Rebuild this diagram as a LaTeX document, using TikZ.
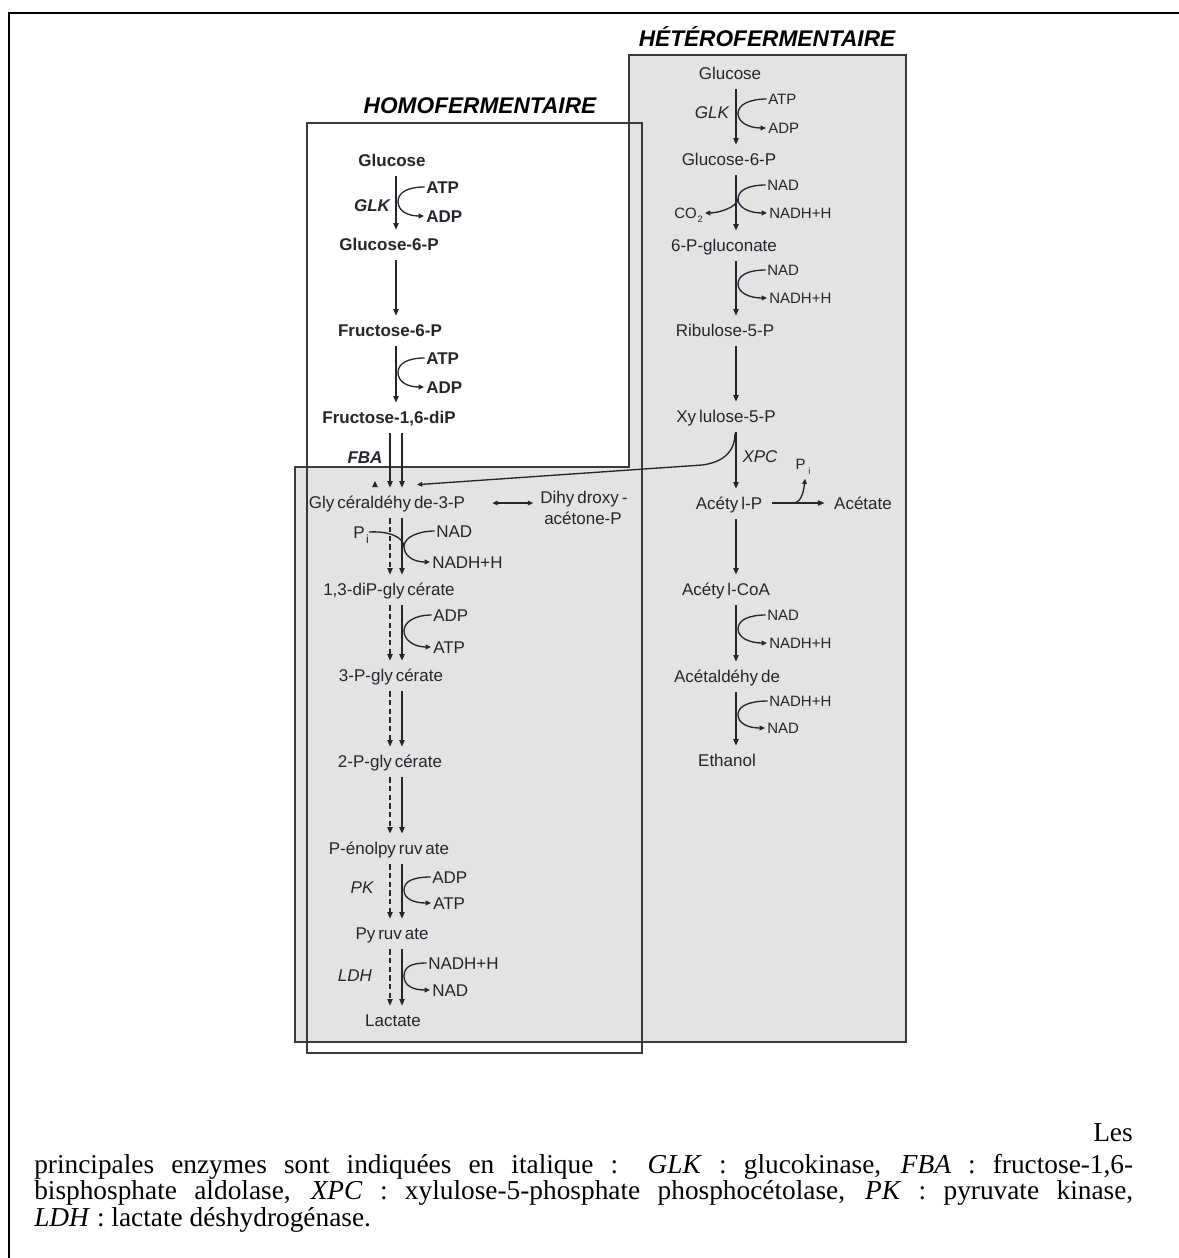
\documentclass[tikz,border=0pt]{standalone}
\usepackage{fontspec}
\setmainfont{Liberation Serif}
\newfontfamily\sansfam{Liberation Sans}
\usetikzlibrary{arrows.meta,calc}

\definecolor{ink}{HTML}{25252D}
\definecolor{panel}{HTML}{E3E3E3}
\definecolor{frameline}{HTML}{3A3A3A}

% small gap that the labels show after some letters
\newcommand\yk{\kern2.2pt}
\newcommand\labfont{\sansfam\fontsize{12.75}{14}\selectfont}
\newcommand\smallfont{\sansfam\fontsize{11.25}{13}\selectfont}
\newcommand\titlefont{\sansfam\bfseries\itshape\fontsize{17}{19}\selectfont}
\newcommand\capfont{\fontsize{20.5}{24}\selectfont}

\tikzset{
  lab/.style={inner sep=0pt, text height=9.1pt, text depth=0pt, text=ink, font=\labfont},
  labb/.style={lab, font=\labfont\bfseries},
  enz/.style={lab, font=\labfont\itshape},
  enzb/.style={lab, font=\labfont\bfseries\itshape},
  sml/.style={inner sep=0pt, text height=8pt, text depth=0pt, text=ink, font=\smallfont},
  ttl/.style={inner sep=0pt, text height=12.2pt, text depth=0pt, text=black, font=\titlefont},
  flux/.style={draw=ink, line width=1pt, -{Triangle[length=5pt,width=4pt]}, shorten <=7.5pt, shorten >=6pt},
  fluxd/.style={flux, dash pattern=on 4pt off 2.5pt},
  cofline/.style={draw=ink, line width=1pt},
  cofarr/.style={cofline, -{Triangle[length=4pt,width=3.5pt]}},
  captxt/.style={inner sep=0pt, font=\capfont, text=black},
}

% cofactor pair: curve from the upper label to the main arrow and out to the lower label
\newcommand\cofcurve[3]{%
  \coordinate (cm) at ($(#1.west)!0.5!(#2.west)$);
  \draw[cofarr] ([xshift=-1pt]#1.west) .. controls +(-17,0) and +(0,-9) .. (cm -| #3)
     .. controls +(0,9) and +(-17,0) .. ([xshift=-1.5pt]#2.west);}

\begin{document}
\begin{tikzpicture}[x=0.75pt,y=-0.75pt]
\useasboundingbox (0,0) rectangle (1179,1258);

% page frame
\draw[black, line width=1.8pt] (9,1258) -- (9,13) -- (1179,13);

% shaded panel and homofermentative frame
\fill[panel] (295,467) -- (629,467) -- (629,55) -- (906,55) -- (906,1042) -- (295,1042) -- cycle;
\draw[frameline, line width=1.2pt] (295,467) -- (629,467) -- (629,55) -- (906,55) -- (906,1042) -- (295,1042) -- cycle;
\draw[frameline, line width=1.2pt] (307,123) rectangle (642,1053);

% titles
\node[ttl] (homo) at (480,105) {HOMOFERMENTAIRE};
\node[ttl] (hetero) at (767,38) {HÉTÉROFERMENTAIRE};

% x positions of the pathway arrows
\coordinate (hx) at (396,0);
\coordinate (hd) at (390,0);
\coordinate (hs) at (402,0);
\coordinate (ex) at (736,0);
\coordinate (hm) at (398,0);
\coordinate (lm) at (404,0);
\coordinate (em) at (738,0);

% ---- homofermentative pathway ----
\node[labb] (hglc) at (392,160) {Glucose};
\node[labb] (hg6p) at (389,244) {Glucose-6-P};
\node[labb] (hf6p) at (390,330) {Fructose-6-P};
\node[labb] (hfdp) at (389,417) {Fructose-1,6-diP};
\node[lab] (gap) at (387,502) {Gly\yk céraldéhy\yk de-3-P};
\node[lab] (dhap) at (584,497) {Dihy\yk droxy\yk -};
\node[lab] (dhapb) at (583,518) {acétone-P};
\node[lab] (bpg) at (389,589) {1,3-diP-gly\yk cérate};
\node[lab] (pgc) at (391,675) {3-P-gly\yk cérate};
\node[lab] (pgb) at (390,761) {2-P-gly\yk cérate};
\node[lab] (pep) at (389,848) {P-énolpy\yk ruv\yk ate};
\node[lab] (pyr) at (392,933) {Py\yk ruv\yk ate};
\node[lab] (lac) at (393,1020) {Lactate};

\node[enzb] (hglk) at (372,205) {GLK};
\node[enzb] (fba) at (365,457) {FBA};
\node[enz] (pk) at (362,887) {PK};
\node[enz] (ldh) at (355,975) {LDH};

\node[labb, anchor=west] (atpa) at (426,187) {ATP};
\node[labb, anchor=west] (adpa) at (426,216) {ADP};
\node[labb, anchor=west] (atpb) at (426,358) {ATP};
\node[labb, anchor=west] (adpb) at (426,387) {ADP};
\node[lab, anchor=west] (nada) at (436,531) {NAD};
\node[lab, anchor=west] (nadha) at (432,562) {NADH+H};
\node[lab] (pi) at (361,532) {P\kern1pt\raisebox{-4pt}{\fontsize{9}{9}\selectfont i}};
\node[lab, anchor=west] (adpc) at (433,615) {ADP};
\node[lab, anchor=west] (atpc) at (433,647) {ATP};
\node[lab, anchor=west] (adpd) at (432,877) {ADP};
\node[lab, anchor=west] (atpd) at (433,903) {ATP};
\node[lab, anchor=west] (nadhb) at (428,963) {NADH+H};
\node[lab, anchor=west] (nadb) at (432,990) {NAD};

\draw[flux] (hglc.south -| hx) -- (hg6p.north -| hx);
\draw[flux] (hg6p.south -| hx) -- (hf6p.north -| hx);
\draw[flux] (hf6p.south -| hx) -- (hfdp.north -| hx);
\draw[flux] (hfdp.south -| hd) -- (gap.north -| hd);
\draw[flux] (hfdp.south -| hs) -- (gap.north -| hs);
\foreach \a/\b in {gap/bpg, bpg/pgc, pgc/pgb, pgb/pep, pep/pyr, pyr/lac} {
  \draw[fluxd] (\a.south -| hd) -- (\b.north -| hd);
  \draw[flux] (\a.south -| hs) -- (\b.north -| hs);
}
\fill[ink] (372,487) -- (378,487) -- (375,481) -- cycle;

\cofcurve{atpa}{adpa}{hm}
\cofcurve{atpb}{adpb}{hm}
\cofcurve{nada}{nadha}{lm}
\coordinate (nadj) at (cm -| lm);
\draw[cofline] (pi.east) .. controls +(17,-1) and +(-1,-11) .. (nadj);
\cofcurve{adpc}{atpc}{lm}
\cofcurve{adpd}{atpd}{lm}
\cofcurve{nadhb}{nadb}{lm}

\draw[cofline, {Triangle[length=4pt,width=3.5pt]}-{Triangle[length=4pt,width=3.5pt]}]
  ($(gap.east)+(27,1)$) -- ($(dhap.west |- gap.east)+(-7,1)$);

% ---- heterofermentative pathway ----
\node[lab] (glc) at (730,73) {Glucose};
\node[lab] (g6p) at (729,159) {Glucose-6-P};
\node[lab] (pgl) at (724,245) {6-P-gluconate};
\node[lab] (ru5p) at (725,330) {Ribulose-5-P};
\node[lab] (xu5p) at (726,416) {Xy\yk lulose-5-P};
\node[lab] (acp) at (729,503) {Acéty\yk l-P};
\node[lab] (ace) at (863,503) {Acétate};
\node[lab] (acoa) at (726,589) {Acéty\yk l-CoA};
\node[lab] (acald) at (727,676) {Acétaldéhy\yk de};
\node[lab] (etoh) at (727,760) {Ethanol};

\node[enz] (glk) at (712,112) {GLK};
\node[enz] (xpc) at (760,456) {XPC};

\node[sml, anchor=west] (atpe) at (768,99) {ATP};
\node[sml, anchor=west] (adpe) at (768,128) {ADP};
\node[sml, anchor=west] (nadc) at (767,185) {NAD};
\node[sml, anchor=west] (nadhc) at (769,213) {NADH+H};
\node[sml, anchor=east] (co2) at (703,213) {CO\kern0.5pt\raisebox{-3pt}{\fontsize{7}{7}\selectfont 2}};
\node[sml, anchor=west] (nadd) at (767,270) {NAD};
\node[sml, anchor=west] (nadhd) at (769,298) {NADH+H};
\node[sml, anchor=west] (nade) at (767,615) {NAD};
\node[sml, anchor=west] (nadhe) at (769,643) {NADH+H};
\node[sml, anchor=west] (nadhf) at (769,701) {NADH+H};
\node[sml, anchor=west] (nadf) at (767,728) {NAD};
\node[sml] (pia) at (803,464) {P\kern2pt\raisebox{-4pt}{\fontsize{7}{7}\selectfont i}};

\foreach \a/\b in {glc/g6p, g6p/pgl, pgl/ru5p, ru5p/xu5p, xu5p/acp, acp/acoa, acoa/acald, acald/etoh}
  \draw[flux] (\a.south -| ex) -- (\b.north -| ex);

\cofcurve{atpe}{adpe}{em}
\cofcurve{nadc}{nadhc}{em}
\coordinate (coj) at (cm -| em);
\draw[cofarr] (coj) .. controls +(-1,9) and +(12,0) .. ([xshift=1.5pt]co2.east);
\cofcurve{nadd}{nadhd}{em}
\cofcurve{nade}{nadhe}{em}
\cofcurve{nadhf}{nadf}{em}

% acetyl-P to acetate, releasing Pi
\draw[flux, shorten <=7pt, shorten >=7pt] (acp.east) -- (ace.west);
\coordinate (pij) at ($(acp.east)!0.43!(ace.west)$);
\draw[cofarr] (pij) .. controls +(9,0) and +(-1,10) .. ($(pia.south)+(2,9)$);

% xylulose-5-P branch towards glyceraldehyde-3-P
\coordinate (xk) at (702,465);
\draw[cofarr] ($(xu5p.south -| ex)+(-1,11)$) .. controls +(0,22) and +(16,-2) .. (xk)
  -- ($(gap.north)+(30,-11)$);

% ---- caption ----
\node[captxt, anchor=base east] (les) at (1133,1141) {Les};
\node[captxt, anchor=base west] (capa) at (34,1173) {\makebox[824.25pt][s]{principales enzymes sont indiquées en italique : \textit{GLK} : glucokinase, \textit{FBA} : fructose-1,6-}};
\node[captxt, anchor=base west] (capb) at (34,1199.5) {\makebox[824.25pt][s]{bisphosphate aldolase, \textit{XPC} : xylulose-5-phosphate phosphocétolase, \textit{PK} : pyruvate kinase,}};
\node[captxt, anchor=base west] (capc) at (34,1226.5) {\textit{LDH} : lactate déshydrogénase.};
\end{tikzpicture}
\end{document}
